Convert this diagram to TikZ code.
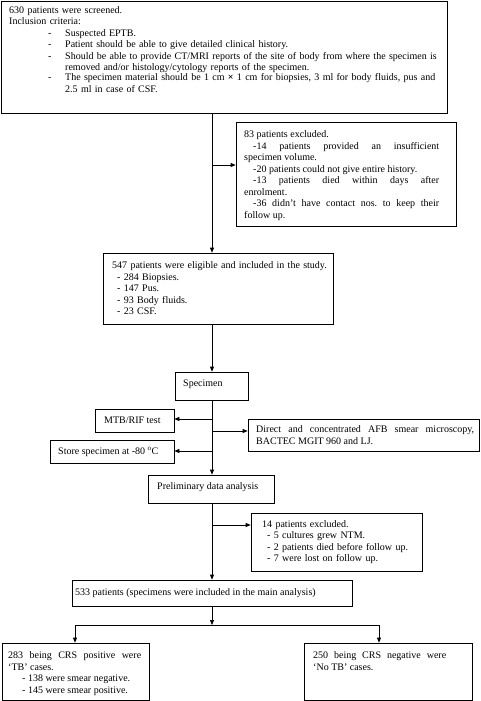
\documentclass[tikz,border=0pt]{standalone}
\usepackage{fontspec}
\setmainfont{Liberation Serif}
\usetikzlibrary{arrows.meta,fit}
\frenchspacing
\begin{document}
\begin{tikzpicture}[x=1pt,y=-1pt,
  boxst/.style={draw, line width=0.7pt, inner sep=0pt, fit={#1}},
  txt/.style={inner sep=0pt, anchor=base west, font=\fontsize{10}{11.5}\selectfont\frenchspacing},
  jtxt/.style={txt, align=justify},
  ltxt/.style={txt, align=left},
  conn/.style={line width=0.7pt},
  arr/.style={conn, -{Triangle[length=5pt,width=4pt]}}]
\useasboundingbox (0,0) rectangle (480,701);
\coordinate (sp) at (212,0);
% boxes
\node[boxst={(1,1)(447,113)}] (b1) {};
\node[boxst={(236,122)(456,226)}] (b2) {};
\node[boxst={(103,253)(333,324)}] (b3) {};
\node[boxst={(175,372)(248,400)}] (b4) {};
\node[boxst={(95,409)(174,432)}] (b5) {};
\node[boxst={(248,419)(479,451)}] (b6) {};
\node[boxst={(50,440)(174,463)}] (b7) {};
\node[boxst={(148,475)(274,503)}] (b8) {};
\node[boxst={(251,513)(422,571)}] (b9) {};
\node[boxst={(72,580)(352,606)}] (b10) {};
\node[boxst={(2,643)(149,700)}] (b11) {};
\node[boxst={(304,643)(472,700)}] (b12) {};
% texts
\node[ltxt, text width=432pt] (t1) at (9,13.3) {630 patients were screened.\\
Inclusion criteria:\\
\hspace*{39pt}\makebox[17pt][l]{-}Suspected EPTB.\\
\hspace*{39pt}\makebox[17pt][l]{-}Patient should be able to give detailed clinical history.\\
\hspace*{39pt}\makebox[17pt][l]{-}\parbox[t]{372pt}{\raggedright Should be able to provide CT/MRI reports of the site of body from where the specimen is\\removed and/or histology/cytology reports of the specimen.}\\
\hspace*{39pt}\makebox[17pt][l]{-}\parbox[t]{372pt}{\raggedright The specimen material should be 1 cm \textbf{×} 1 cm for biopsies, 3 ml for body fluids, pus and\\2.5 ml in case of CSF.}};
\node[jtxt, text width=195pt] (t2) at (244,137.8) {83 patients excluded.\par
\hspace*{9pt}-14 patients provided an insufficient \linebreak specimen volume.\par
\hspace*{9pt}-20 patients could not give entire history.\par
\hspace*{9pt}-13 patients died within days after \linebreak enrolment.\par
\hspace*{9pt}-36 didn’t have contact nos. to keep their \linebreak follow up.};
\node[ltxt, text width=220pt] (t3) at (112,268.5) {547 patients were eligible and included in the study.\\
\hspace*{5pt}- 284 Biopsies.\\
\hspace*{5pt}- 147 Pus.\\
\hspace*{5pt}- 93 Body fluids.\\
\hspace*{5pt}- 23 CSF.};
\node[txt] (t4) at (183,386.5) {Specimen};
\node[txt] (t5) at (104,423) {MTB/RIF test};
\node[jtxt, text width=218pt] (t6) at (256,432.5) {Direct and concentrated AFB smear microscopy, \linebreak BACTEC MGIT 960 and LJ.};
\node[txt] (t7) at (58,454.5) {Store specimen at -80 \textsuperscript{o}C};
\node[txt] (t8) at (157,489.5) {Preliminary data analysis};
\node[ltxt, text width=160pt] (t9) at (262,527) {14 patients excluded.\\
\hspace*{5pt}- 5 cultures grew NTM.\\
\hspace*{5pt}- 2 patients died before follow up.\\
\hspace*{5pt}- 7 were lost on follow up.};
\node[txt] (t10) at (75,595) {533 patients (specimens were included in the main analysis)};
\node[jtxt, text width=133pt] (t11) at (8,658.5) {283 being CRS positive were \linebreak ‘TB’ cases.\par
\hspace*{14pt}- 138 were smear negative.\par
\hspace*{14pt}- 145 were smear positive.};
\node[jtxt, text width=133pt] (t12) at (313,658.5) {250 being CRS negative were \linebreak ‘No TB’ cases.};
% connectors
\coordinate (j2) at (212,165);
\coordinate (j5) at (212,419);
\coordinate (j6) at (212,431);
\coordinate (j7) at (212,451);
\coordinate (j9) at (212,525);
\coordinate (hb) at (212,625);
\coordinate (hl) at (75,625);
\coordinate (hr) at (379,625);
\draw[arr] (b1.south -| sp) -- (b3.north -| sp);
\draw[arr] (j2) -- (j2 -| b2.west);
\draw[arr] (b3.south -| sp) -- (b4.north -| sp);
\draw[arr] (b4.south -| sp) -- (b8.north -| sp);
\draw[arr] (j5) -- (j5 -| b5.east);
\draw[arr] (j6) -- (j6 -| b6.west);
\draw[arr] (j7) -- (j7 -| b7.east);
\draw[arr] (b8.south -| sp) -- (b10.north -| sp);
\draw[arr] (j9) -- (j9 -| b9.west);
\draw[arr] (b10.south -| sp) -- (hb);
\draw[conn] (hl) -- (hr);
\draw[arr] (hl) -- (hl |- b11.north);
\draw[arr] (hr) -- (hr |- b12.north);
\end{tikzpicture}
\end{document}
